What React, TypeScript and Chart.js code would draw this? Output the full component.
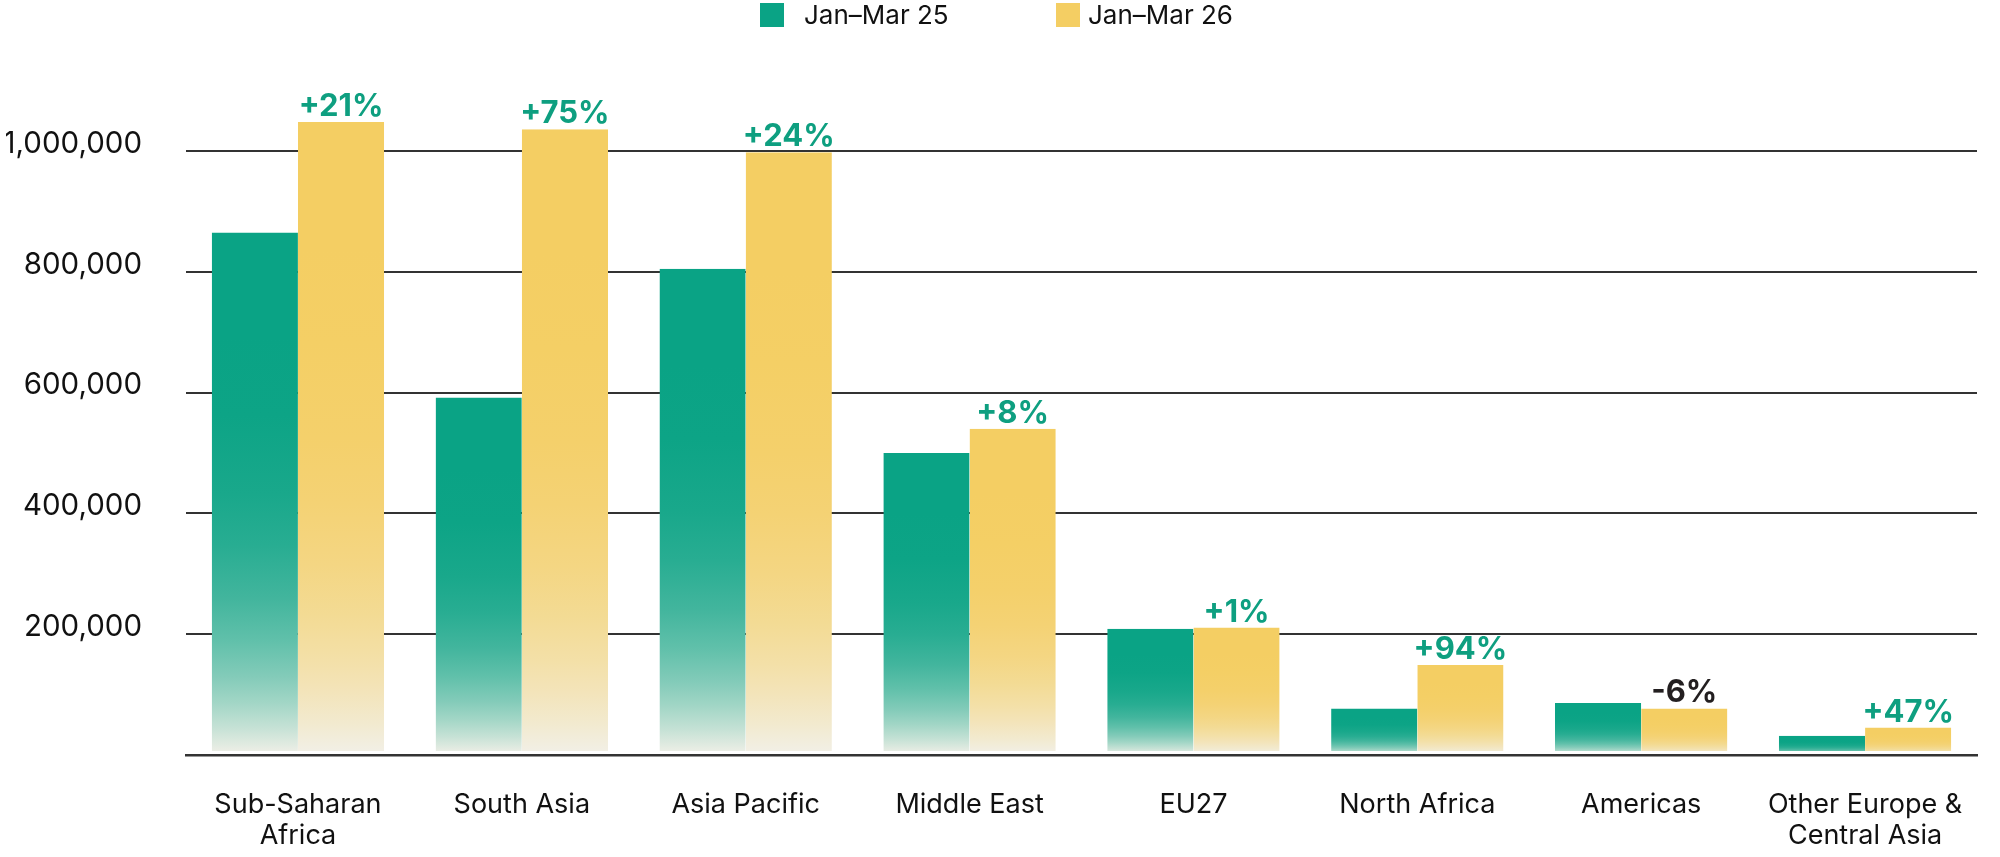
import React, { useEffect, useRef } from "react";
import { Chart, registerables } from "chart.js";

Chart.register(...registerables);

const categories: (string | string[])[] = [
  ["Sub-Saharan", "Africa"],
  "South Asia",
  "Asia Pacific",
  "Middle East",
  "EU27",
  "North Africa",
  "Americas",
  ["Other Europe &", "Central Asia"],
];

const seriesNames = ["Jan–Mar 25", "Jan–Mar 26"];
const janMar25 = [865000, 592000, 805000, 500000, 209000, 77000, 86000, 32000];
const janMar26 = [1048000, 1036000, 998000, 540000, 211000, 149000, 77000, 45500];
const changeLabels = ["+21%", "+75%", "+24%", "+8%", "+1%", "+94%", "-6%", "+47%"];

const GREEN = [10, 163, 133];
const YELLOW = [244, 206, 99];
const CREAM = [242, 240, 232];
const FONT = "Inter, 'Noto Sans', sans-serif";

const rgb = (c: number[]) => `rgb(${c[0]},${c[1]},${c[2]})`;
const mix = (a: number[], b: number[], m: number) =>
  rgb(a.map((v, i) => Math.round(v + (b[i] - v) * m)));

function barFill(solid: number[]) {
  return (ctx: any) => {
    const chart = ctx.chart;
    const area = chart.chartArea;
    if (!area || ctx.type !== "data" || !chart.scales.y) return rgb(solid);
    const ys = chart.scales.y;
    const top = ys.getPixelForValue(ctx.raw);
    const bottom = ys.getPixelForValue(0);
    if (!isFinite(top) || !isFinite(bottom) || bottom - top < 1) return rgb(solid);
    const g = chart.ctx.createLinearGradient(0, top, 0, bottom);
    const stops = [0, 0.2, 0.35, 0.5, 0.6, 0.7, 0.78, 0.85, 0.9, 0.95, 1];
    for (const t of stops) g.addColorStop(t, mix(solid, CREAM, Math.pow(t, 4)));
    return g;
  };
}

const legendPlugin = {
  id: "customLegend",
  afterDraw(chart: any) {
    const c = chart.ctx;
    c.save();
    const items = [
      { color: GREEN, box: 760, text: 804, label: seriesNames[0] },
      { color: YELLOW, box: 1056, text: 1088, label: seriesNames[1] },
    ];
    c.font = `26px ${FONT}`;
    c.textBaseline = "middle";
    c.textAlign = "left";
    for (const it of items) {
      c.fillStyle = rgb(it.color);
      c.fillRect(it.box, 3, 24, 24);
      c.fillStyle = "#111";
      c.fillText(it.label, it.text, 16);
    }
    c.restore();
  },
};

const changePlugin = {
  id: "changeLabels",
  afterDatasetsDraw(chart: any) {
    const c = chart.ctx;
    const meta = chart.getDatasetMeta(1);
    c.save();
    c.font = `bold 31px ${FONT}`;
    c.textAlign = "center";
    c.textBaseline = "alphabetic";
    meta.data.forEach((el: any, i: number) => {
      const lab = changeLabels[i];
      c.fillStyle = lab.startsWith("-") ? "#231f20" : "#0e9f80";
      c.fillText(lab, el.x, el.y - 6);
    });
    c.restore();
  },
};

export default function App() {
  const ref = useRef<HTMLCanvasElement | null>(null);
  useEffect(() => {
    document.body.style.margin = "0";
    if (!ref.current) return;
    const barCommon = {
      borderColor: "#ffffff",
      borderWidth: { top: 0, left: 0, right: 0, bottom: 3 },
      borderSkipped: false,
      categoryPercentage: 0.77,
      barPercentage: 1,
      clip: false as const,
    };
    const chart = new Chart(ref.current, {
      type: "bar",
      data: {
        labels: categories,
        datasets: [
          { label: seriesNames[0], data: janMar25, backgroundColor: barFill(GREEN), ...barCommon },
          { label: seriesNames[1], data: janMar26, backgroundColor: barFill(YELLOW), ...barCommon },
        ],
      },
      options: {
        animation: false,
        responsive: true,
        maintainAspectRatio: false,
        layout: { padding: { top: 151, left: 6, right: 23, bottom: 0 } },
        plugins: {
          legend: { display: false },
          tooltip: { enabled: false },
        },
        scales: {
          x: {
            z: 1,
            grid: { display: false, drawTicks: false },
            border: { display: true, color: "#333333", width: 2.5 },
            afterFit: (s: any) => {
              s.height = 102;
            },
            ticks: {
              color: "#111",
              font: { family: FONT, size: 27, lineHeight: 1.13 },
              padding: 35,
              maxRotation: 0,
              autoSkip: false,
            },
          },
          y: {
            min: 0,
            max: 1000000,
            grid: {
              color: (c: any) => (c.tick && c.tick.value === 0 ? "rgba(0,0,0,0)" : "#333333"),
              lineWidth: 2,
              drawTicks: false,
            },
            border: { display: false },
            afterFit: (s: any) => {
              s.width = 180;
            },
            ticks: {
              stepSize: 200000,
              color: "#111",
              font: { family: FONT, size: 29.5 },
              padding: 44,
              labelOffset: -7,
              callback: (v: any) => (Number(v) === 0 ? "" : Number(v).toLocaleString("en-US")),
            },
          },
        },
      },
      plugins: [legendPlugin, changePlugin],
    });
    return () => chart.destroy();
  }, []);
  return (
    <div style={{ position: "fixed", left: 0, top: 0, width: 2000, height: 857 }}>
      <canvas ref={ref} />
    </div>
  );
}
